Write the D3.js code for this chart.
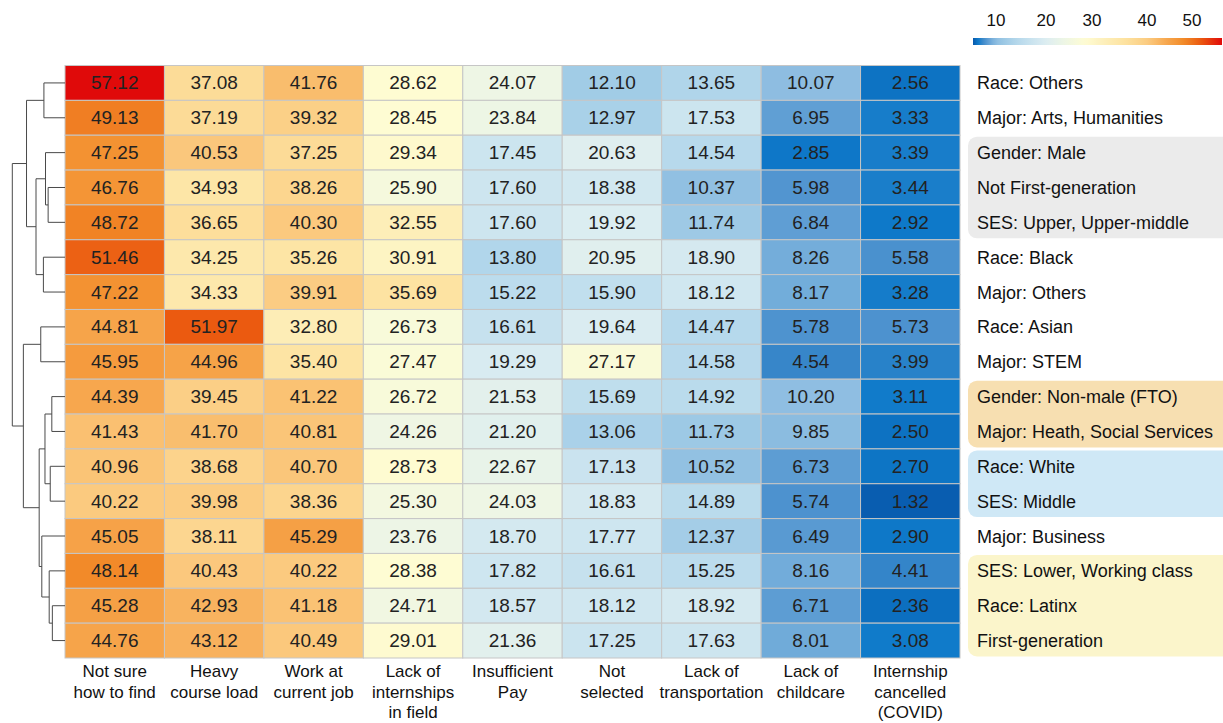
<!DOCTYPE html>
<html>
<head>
<meta charset="utf-8">
<script src="https://cdn.jsdelivr.net/npm/d3@7"></script>
<style>
  html, body { margin: 0; padding: 0; background: #fff; }
  svg { display: block; font-family: "Liberation Sans", Arial, Helvetica, sans-serif; }
</style>
</head>
<body>
<svg id="chart" width="1223" height="723"></svg>
<script>
// ---------------- DATA ----------------
const rowLabels = [
  "Race: Others", "Major: Arts, Humanities", "Gender: Male", "Not First-generation",
  "SES: Upper, Upper-middle", "Race: Black", "Major: Others", "Race: Asian", "Major: STEM",
  "Gender: Non-male (FTO)", "Major: Heath, Social Services", "Race: White", "SES: Middle",
  "Major: Business", "SES: Lower, Working class", "Race: Latinx", "First-generation"
];
const colLabels = [
  ["Not sure", "how to find"],
  ["Heavy", "course load"],
  ["Work at", "current job"],
  ["Lack of", "internships", "in field"],
  ["Insufficient", "Pay"],
  ["Not", "selected"],
  ["Lack of", "transportation"],
  ["Lack of", "childcare"],
  ["Internship", "cancelled", "(COVID)"]
];
const notSure       = [57.12, 49.13, 47.25, 46.76, 48.72, 51.46, 47.22, 44.81, 45.95, 44.39, 41.43, 40.96, 40.22, 45.05, 48.14, 45.28, 44.76];
const heavyLoad     = [37.08, 37.19, 40.53, 34.93, 36.65, 34.25, 34.33, 51.97, 44.96, 39.45, 41.70, 38.68, 39.98, 38.11, 40.43, 42.93, 43.12];
const workJob       = [41.76, 39.32, 37.25, 38.26, 40.30, 35.26, 39.91, 32.80, 35.40, 41.22, 40.81, 40.70, 38.36, 45.29, 40.22, 41.18, 40.49];
const lackField     = [28.62, 28.45, 29.34, 25.90, 32.55, 30.91, 35.69, 26.73, 27.47, 26.72, 24.26, 28.73, 25.30, 23.76, 28.38, 24.71, 29.01];
const insuffPay     = [24.07, 23.84, 17.45, 17.60, 17.60, 13.80, 15.22, 16.61, 19.29, 21.53, 21.20, 22.67, 24.03, 18.70, 17.82, 18.57, 21.36];
const notSelected   = [12.10, 12.97, 20.63, 18.38, 19.92, 20.95, 15.90, 19.64, 27.17, 15.69, 13.06, 17.13, 18.83, 17.77, 16.61, 18.12, 17.25];
const lackTransport = [13.65, 17.53, 14.54, 10.37, 11.74, 18.90, 18.12, 14.47, 14.58, 14.92, 11.73, 10.52, 14.89, 12.37, 15.25, 18.92, 17.63];
const lackChildcare = [10.07, 6.95, 2.85, 5.98, 6.84, 8.26, 8.17, 5.78, 4.54, 10.20, 9.85, 6.73, 5.74, 6.49, 8.16, 6.71, 8.01];
const covidCancel   = [2.56, 3.33, 3.39, 3.44, 2.92, 5.58, 3.28, 5.73, 3.99, 3.11, 2.50, 2.70, 1.32, 2.90, 4.41, 2.36, 3.08];
const series = [notSure, heavyLoad, workJob, lackField, insuffPay, notSelected, lackTransport, lackChildcare, covidCancel];

const legendTicks = [10, 20, 30, 40, 50];

// row clustering (merge heights, 0 = leaves, 1 = root)
const dendro = {h: 1.0, c: [
  {h: 0.73, c: [
    {h: 0.40, c: [0, 1]},
    {h: 0.55, c: [
      {h: 0.37, c: [2, {h: 0.32, c: [3, 4]}]},
      {h: 0.41, c: [5, 6]}
    ]}
  ]},
  {h: 0.79, c: [
    {h: 0.46, c: [7, 8]},
    {h: 0.49, c: [
      {h: 0.38, c: [{h: 0.25, c: [9, 10]}, {h: 0.28, c: [11, 12]}]},
      {h: 0.44, c: [13, {h: 0.30, c: [14, {h: 0.24, c: [15, 16]}]}]}
    ]}
  ]}
]};

// highlighted label groups (first row, last row)
const labelGroups = [
  {from: 2, to: 4, fill: "#ebebeb"},
  {from: 9, to: 10, fill: "#f7dfb1"},
  {from: 11, to: 12, fill: "#cfe8f6"},
  {from: 14, to: 16, fill: "#fbf5cb"}
];

// ---------------- SCALES ----------------
const svg = d3.select("#chart");
const x = d3.scaleBand().domain(d3.range(colLabels.length)).range([65, 960]);
const y = d3.scaleBand().domain(d3.range(rowLabels.length)).range([65.5, 658]);

const color = d3.scaleLinear()
  .domain([1, 3, 4.5, 6, 8, 10, 12, 14, 17, 20, 24, 28.5, 32, 36, 40, 44, 48, 52, 57])
  .range(["#0858ab", "#0e7aca", "#3686c9", "#5295d0", "#70abd9", "#8dbde1", "#a0cbe6", "#b3d7eb",
          "#c9e3ef", "#dcedf1", "#eef6e5", "#fefcd3", "#fdf0bc", "#fde2a0", "#fbcc82", "#f7aa52",
          "#f28c2a", "#eb5a10", "#e00a0a"])
  .interpolate(d3.interpolateRgb)
  .clamp(true);

// ---------------- LABEL BANDS ----------------
svg.append("g").selectAll("rect").data(labelGroups).join("rect")
  .attr("x", 968)
  .attr("y", d => y(d.from) + 1.5)
  .attr("width", 280)
  .attr("height", d => y(d.to) + y.bandwidth() - y(d.from) - 3)
  .attr("rx", 9)
  .attr("fill", d => d.fill);

// ---------------- HEATMAP ----------------
const cells = [];
series.forEach((vals, ci) => vals.forEach((v, ri) => cells.push({ci, ri, v})));

const g = svg.append("g");
g.selectAll("rect").data(cells).join("rect")
  .attr("x", d => x(d.ci))
  .attr("y", d => y(d.ri))
  .attr("width", x.bandwidth())
  .attr("height", y.bandwidth())
  .attr("fill", d => color(d.v))
  .attr("stroke", "#c6c6c6")
  .attr("stroke-width", 1);

g.selectAll("text").data(cells).join("text")
  .attr("x", d => x(d.ci) + x.bandwidth() / 2)
  .attr("y", d => y(d.ri) + y.bandwidth() / 2 + 6.5)
  .attr("text-anchor", "middle")
  .attr("font-size", 19)
  .attr("fill", "#222")
  .text(d => d.v.toFixed(2));

// ---------------- ROW LABELS ----------------
svg.append("g").selectAll("text").data(rowLabels).join("text")
  .attr("x", 977)
  .attr("y", (d, i) => y(i) + y.bandwidth() / 2 + 6.5)
  .attr("font-size", 18)
  .attr("fill", "#111")
  .text(d => d);

// ---------------- COLUMN LABELS ----------------
const colG = svg.append("g").selectAll("text").data(colLabels).join("text")
  .attr("text-anchor", "middle")
  .attr("font-size", 17)
  .attr("fill", "#111");
colG.selectAll("tspan").data((d, i) => d.map(s => ({s, i}))).join("tspan")
  .attr("x", d => x(d.i) + x.bandwidth() / 2)
  .attr("y", (d, k) => 677 + k * 20.5)
  .text(d => d.s);

// ---------------- DENDROGRAM ----------------
const hx = d3.scaleLinear().domain([0, 1]).range([65, 12.3]);
const dg = svg.append("g").attr("fill", "none").attr("stroke", "#4a4a4a").attr("stroke-width", 1);
function layout(node) {
  if (typeof node === "number") return {x: hx(0), y: y(node) + y.bandwidth() / 2};
  const kids = node.c.map(layout);
  const nx = hx(node.h);
  const ny = d3.mean(kids, k => k.y);
  const p = d3.path();
  p.moveTo(kids[0].x, kids[0].y);
  p.lineTo(nx, kids[0].y);
  p.lineTo(nx, kids[1].y);
  p.lineTo(kids[1].x, kids[1].y);
  dg.append("path").attr("d", p.toString());
  return {x: nx, y: ny};
}
layout(dendro);

// ---------------- LEGEND ----------------
const lx = d3.scaleLinear().domain([1, 10, 20, 30, 40, 50, 57]).range([973, 996, 1046, 1092, 1147, 1192, 1222]);
const defs = svg.append("defs");
const grad = defs.append("linearGradient").attr("id", "lg")
  .attr("x1", "0%").attr("x2", "100%").attr("y1", "0%").attr("y2", "0%");
const lx0 = 973, lx1 = 1222;
const gStops = d3.range(0, 1.0001, 0.02);
grad.selectAll("stop").data(gStops).join("stop")
  .attr("offset", d => (d * 100) + "%")
  .attr("stop-color", d => color(lx.invert(lx0 + d * (lx1 - lx0))));
svg.append("rect")
  .attr("x", lx0).attr("y", 38)
  .attr("width", lx1 - lx0).attr("height", 7)
  .attr("fill", "url(#lg)");
svg.append("g").selectAll("text").data(legendTicks).join("text")
  .attr("x", d => lx(d))
  .attr("y", 26)
  .attr("text-anchor", "middle")
  .attr("font-size", 17)
  .attr("fill", "#111")
  .text(d => d);
</script>
</body>
</html>
